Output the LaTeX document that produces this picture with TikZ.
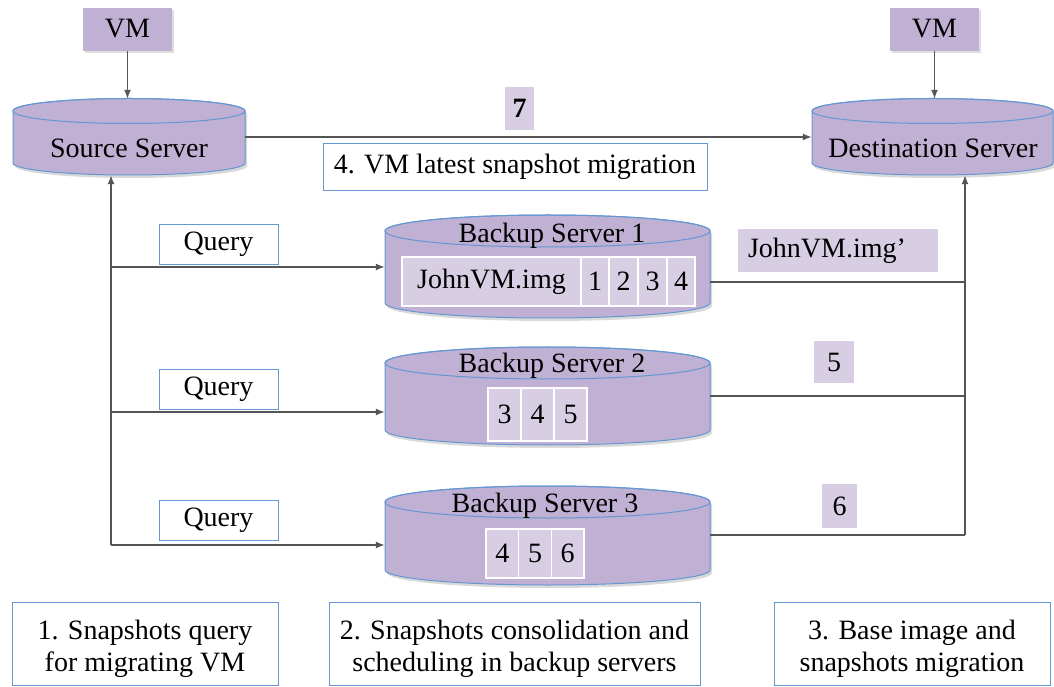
\documentclass[tikz,border=0pt]{standalone}
\usepackage{fontspec}
\setmainfont{Liberation Serif}
\usetikzlibrary{arrows.meta,shadows}
\definecolor{cylfill}{RGB}{192,177,212}
\definecolor{cellfill}{RGB}{215,206,228}
\definecolor{bordblue}{RGB}{100,150,210}
\definecolor{linegray}{RGB}{85,85,85}
\newcommand\drawcyl[6]{%
  \pgfmathsetmacro\cylrx{(#2-#1)/2}%
  \pgfmathsetmacro\cylcx{(#1+#2)/2}%
  \fill[black,opacity=0.15,shift={(2,-3)}] (#1,#3) -- (#1,#4) arc[start angle=180,end angle=360,x radius=\cylrx pt,y radius=#6 pt] -- (#2,#3) arc[start angle=0,end angle=180,x radius=\cylrx pt,y radius=#5 pt] -- cycle;
  \filldraw[fill=cylfill,draw=bordblue,line width=1pt] (#1,#3) -- (#1,#4) arc[start angle=180,end angle=360,x radius=\cylrx pt,y radius=#6 pt] -- (#2,#3) arc[start angle=0,end angle=180,x radius=\cylrx pt,y radius=#5 pt] -- cycle;
  \draw[bordblue,line width=1pt] (\cylcx,#3) ellipse[x radius=\cylrx pt,y radius=#5 pt];
}
\tikzset{
  every node/.style={font=\fontsize{28}{32}\selectfont, inner sep=0pt},
  vmbox/.style={fill=cylfill, minimum width=89pt, minimum height=43pt, text height=19pt, text depth=3pt, drop shadow={opacity=0.25,shadow xshift=1.5pt,shadow yshift=-2pt}},
  body/.style={minimum width=#1, draw=none},
  tbox/.style={draw=bordblue, fill=white, line width=0.9pt},
  tag/.style={fill=cellfill},
  cell/.style={fill=cellfill, draw=white, line width=1.6pt},
  arr/.style={draw=linegray, line width=1.5pt, -{Latex[length=9pt,width=7pt]}},
  ln/.style={draw=linegray, line width=1.5pt},
}
\begin{document}
\begin{tikzpicture}[x=1pt,y=1pt]
\useasboundingbox[fill=white] (0,0) rectangle (1054,686);

% cylinders
\drawcyl{13}{245}{575}{523}{12.5}{12}
\drawcyl{812}{1053}{575}{523}{12.5}{12}
\drawcyl{385}{710}{455}{383}{16}{15}
\drawcyl{385}{710}{323}{256}{16}{15}
\drawcyl{385}{710}{184}{116}{16}{15}

% body nodes (for connectors)
\node[body=232pt, minimum height=76pt] (src) at (129,549) {};
\node[body=241pt, minimum height=76pt] (dst) at (932.5,549) {};
\node[body=325pt, minimum height=103pt] (bs1) at (547.5,419) {};
\node[body=325pt, minimum height=98pt] (bs2) at (547.5,290) {};
\node[body=325pt, minimum height=99pt] (bs3) at (547.5,150.5) {};

% server titles
\node (srct) at (129,538) {Source Server};
\node (dstt) at (933,538) {Destination Server};
\node (bs1t) at (552,450) {Backup Server 1};
\node (bs2t) at (552,320) {Backup Server 2};
\node (bs3t) at (545,180) {Backup Server 3};

% VM boxes
\node[vmbox] (vmL) at (127.5,656.5) {VM};
\node[vmbox] (vmR) at (934.5,656.5) {VM};

% tables
\node[cell, minimum width=179pt, minimum height=49pt] (c0) at (491.5,404.5) {JohnVM.img};
\node[cell, minimum width=28pt, minimum height=49pt] (c1) at (595,404.5) {1};
\node[cell, minimum width=29pt, minimum height=49pt] (c2) at (623.5,404.5) {2};
\node[cell, minimum width=29pt, minimum height=49pt] (c3) at (652.5,404.5) {3};
\node[cell, minimum width=28pt, minimum height=49pt] (c4) at (681,404.5) {4};

\node[cell, minimum width=33pt, minimum height=53pt] (d3) at (504.5,271.5) {3};
\node[cell, minimum width=33pt, minimum height=53pt] (d4) at (537.5,271.5) {4};
\node[cell, minimum width=33pt, minimum height=53pt] (d5) at (570.5,271.5) {5};

\node[cell, minimum width=32.7pt, minimum height=49pt] (e4) at (502.3,132.5) {4};
\node[cell, minimum width=32.7pt, minimum height=49pt] (e5) at (535,132.5) {5};
\node[cell, minimum width=32.7pt, minimum height=49pt] (e6) at (567.7,132.5) {6};

% connectors
\draw[arr] (vmL) -- (vmL |- src.north);
\draw[arr] (vmR) -- (vmR |- dst.north);
\draw[arr] (src.east) -- (dst.west);

\coordinate (ltb) at (111,141);
\coordinate (rtb) at (965,151);
\draw[arr] (ltb) -- (ltb |- src.south);
\draw[arr] (ltb |- bs1.west) -- (bs1.west);
\draw[arr] (ltb |- 0,274) -- ([yshift=-16pt]bs2.west);
\draw[arr] (ltb) -- (ltb -| bs3.west);

\draw[arr] (rtb) -- (rtb |- dst.south);
\draw[ln] ([yshift=-15pt]bs1.east) -- ([yshift=-15pt]bs1.east -| rtb);
\draw[ln] (bs2.east) -- (bs2.east -| rtb);
\draw[ln] (bs3.east |- rtb) -- (rtb);

% labels
\node[tag, minimum width=29pt, minimum height=43pt] (n7) at (519.5,577.5) {\bfseries 7};
\node[tbox, minimum width=384pt, minimum height=47pt] (l4) at (515,519.5) {4. VM latest snapshot migration};
\node[tbox, minimum width=119pt, minimum height=40pt, text height=19pt, text depth=6pt] (q1) at (218.5,442) {Query};
\node[tbox, minimum width=119pt, minimum height=40pt, text height=19pt, text depth=6pt] (q2) at (218.5,297) {Query};
\node[tbox, minimum width=119pt, minimum height=40pt, text height=19pt, text depth=6pt] (q3) at (218.5,166) {Query};
\node[tag, minimum height=43pt, text width=180pt, inner xsep=10pt, align=left] (jimg) at (838,435.5) {JohnVM.img’};
\node[tag, minimum width=40pt, minimum height=42pt] (n5) at (834,324) {5};
\node[tag, minimum width=35pt, minimum height=44pt] (n6) at (839.5,180) {6};

% bottom step boxes
\node[tbox, minimum width=266pt, minimum height=83pt] (s1) at (145,42.5) {};
\node[tbox, minimum width=371pt, minimum height=83pt] (s2) at (514.5,42.5) {};
\node[tbox, minimum width=276pt, minimum height=83pt] (s3) at (912,42.5) {};
\node[align=center] (s1t) at ([yshift=-5pt]s1.center) {1. Snapshots query\\for migrating VM};
\node[align=center] (s2t) at ([yshift=-5pt]s2.center) {2. Snapshots consolidation and\\scheduling in backup servers};
\node[align=center] (s3t) at ([yshift=-5pt]s3.center) {3. Base image and\\snapshots migration};
\end{tikzpicture}
\end{document}
